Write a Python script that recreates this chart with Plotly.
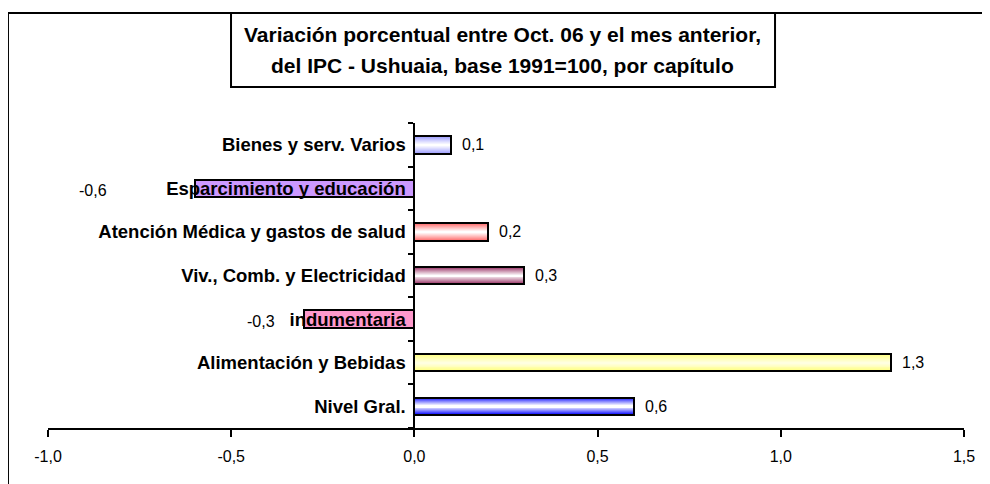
import plotly.graph_objects as go

# ---- data ----
categories = [
    "Nivel Gral.",
    "Alimentación y Bebidas",
    "indumentaria",
    "Viv., Comb. y Electricidad",
    "Atención Médica y gastos de salud",
    "Esparcimiento y educación",
    "Bienes y serv. Varios",
]
values = [0.6, 1.3, -0.3, 0.3, 0.2, -0.6, 0.1]
x_tickvals = [-1.0, -0.5, 0.0, 0.5, 1.0, 1.5]
x_ticktext = [f"{v:.1f}".replace(".", ",") for v in x_tickvals]
title_lines = [
    "Variación porcentual entre Oct. 06 y el mes anterior,",
    "del IPC - Ushuaia, base 1991=100, por capítulo",
]

# ---- style ----
edge_colors = ["#0000ff", "#ffff80", "#ff99cc", "#993366", "#ff6666", "#cc99ff", "#9999ff"]
center_colors = ["#ffffff", "#ffffe0", "#ff99cc", "#ffffff", "#ffffff", "#cc99ff", "#ffffff"]
label_xshift = [9, 9, -27, 9, 9, -86, 9]
FONT = "Liberation Sans, Arial, sans-serif"
BAR_W = 0.40
N_LAYERS = 9


def hex2rgb(h):
    h = h.lstrip("#")
    return [int(h[i:i + 2], 16) for i in (0, 2, 4)]


def mix(c1, c2, t):
    a, b = hex2rgb(c1), hex2rgb(c2)
    return "rgb(%d,%d,%d)" % tuple(round(a[i] + (b[i] - a[i]) * t) for i in range(3))


fig = go.Figure()

# gradient layers (outer to inner)
for k in range(N_LAYERS):
    frac = 1 - k / N_LAYERS
    t = (k / (N_LAYERS - 1)) ** 0.9
    fig.add_trace(go.Bar(
        x=values, y=categories, orientation="h",
        width=BAR_W * frac,
        marker=dict(color=[mix(e, c, t) for e, c in zip(edge_colors, center_colors)],
                    line=dict(width=0)),
        hoverinfo="skip", showlegend=False,
    ))

# outline
fig.add_trace(go.Bar(
    x=values, y=categories, orientation="h", width=BAR_W,
    marker=dict(color="rgba(0,0,0,0)", line=dict(color="black", width=2)),
    showlegend=False,
))

# data labels
for cat, v, sh in zip(categories, values, label_xshift):
    fig.add_annotation(
        x=v, y=cat, xref="x", yref="y",
        text=f"{v:.1f}".replace(".", ","),
        showarrow=False, xanchor="left" if v >= 0 else "right",
        xshift=sh, yshift=-2 if v < 0 else 0,
        font=dict(family=FONT, size=16, color="black"),
    )

# title box + text
fig.add_shape(type="rect", xref="paper", yref="paper",
              x0=0.1998, x1=0.7937, y0=1.118, y1=1.3607,
              line=dict(color="black", width=2), fillcolor="white")
for i, line in enumerate(title_lines):
    fig.add_annotation(
        xref="paper", yref="paper", x=0.4967, y=[1.289, 1.190][i],
        text="<b>%s</b>" % line, showarrow=False,
        xanchor="center", yanchor="middle",
        font=dict(family=FONT, size=21, color="black"),
    )

# outer chart border
fig.add_shape(type="rect", xref="paper", yref="paper",
              x0=-0.0437, x1=1.05, y0=-0.25, y1=1.3607,
              line=dict(color="black", width=2), fillcolor="rgba(0,0,0,0)")

fig.update_layout(
    width=982, height=476,
    margin=dict(l=40, r=26, t=115, b=56),
    paper_bgcolor="white", plot_bgcolor="white",
    barmode="overlay", bargap=0,
    font=dict(family=FONT, size=16, color="black"),
    xaxis=dict(
        range=[-1.0, 1.5], tickvals=x_tickvals, ticktext=x_ticktext,
        showgrid=False, zeroline=False,
        showline=True, linecolor="black", linewidth=2,
        ticks="outside", ticklen=7, tickwidth=2, tickcolor="black",
        ticklabelstandoff=6,
        tickfont=dict(family=FONT, size=16),
        anchor="y",
    ),
    yaxis=dict(
        categoryorder="array", categoryarray=categories,
        range=[-0.5, 6.5],
        anchor="free", position=0.4,
        showgrid=False, zeroline=False,
        showline=True, linecolor="black", linewidth=2,
        ticks="outside", ticklen=5, tickwidth=2, tickcolor="black",
        tickson="boundaries",
        ticklabelstandoff=4,
        tickfont=dict(family=FONT, size=18.5, weight="bold"),
    ),
)

fig.write_html("out.html")
